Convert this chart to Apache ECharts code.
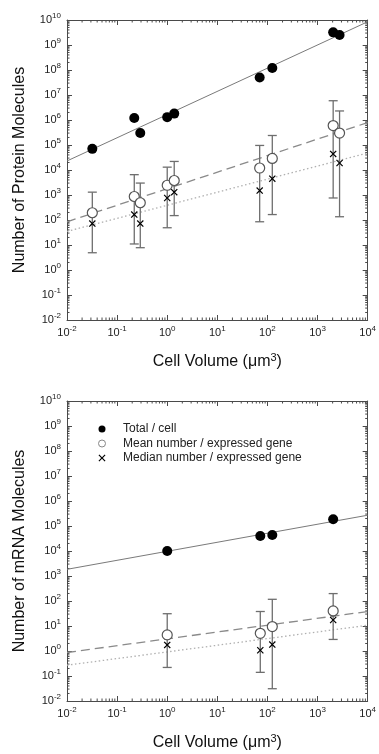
<!DOCTYPE html>
<html>
<head>
<meta charset="utf-8">
<script src="https://cdn.jsdelivr.net/npm/echarts@6/dist/echarts.min.js"></script>
<style>
  html, body { margin: 0; padding: 0; background: #fff; }
  #chart { width: 379px; height: 754px; }
</style>
</head>
<body>
<div id="chart"></div>
<script>
// cell volumes (um^3)
const proteinVolume = [0.032, 0.22, 0.29, 1.0, 1.38, 70, 125, 2050, 2750]
const proteinTotal = [7e4, 1.2e6, 3e5, 1.3e6, 1.8e6, 5e7, 1.2e8, 3.2e9, 2.5e9]
const proteinMean = [195, 870, 490, 2450, 3800, 1.2e4, 2.9e4, 6e5, 3e5]
const proteinMeanLow = [4.9, 11, 7.8, 49, 150, 85, 165, 760, 135]
const proteinMeanHigh = [1300, 6500, 3000, 1.3e4, 2.2e4, 9.6e4, 2.4e5, 5.9e6, 2.3e6]
const proteinMedian = [72, 165, 72, 760, 1300, 1500, 4500, 4.4e4, 1.9e4]

const mrnaVolume = [1.0, 72, 125, 2050]
const mrnaTotal = [1e4, 4e4, 4.4e4, 1.85e5]
const mrnaMean = [4.4, 5.1, 9.5, 40]
const mrnaMeanLow = [0.22, 0.14, 0.031, 2.9]
const mrnaMeanHigh = [31, 38, 117, 198]
const mrnaMedian = [1.75, 1.07, 1.8, 17.4]

// fitted lines, end points at the axis limits
const fitVolume = [0.01, 10000]
const proteinTotalFit = [2.3e4, 8.5e9]
const proteinMeanFit = [85, 7.9e5]
const proteinMedianFit = [35, 4.8e4]
const mrnaTotalFit = [1.85e3, 2.7e5]
const mrnaMeanFit = [0.87, 38]
const mrnaMedianFit = [0.27, 10.7]

const xRange = [0.01, 10000]
const yRange = [0.01, 1e10]
const minorSteps = [2, 3, 4, 5, 6, 7, 8, 9]
const legendNames = ['Total / cell', 'Mean number / expressed gene', 'Median number / expressed gene']

const FONT = 'Liberation Sans, Arial, sans-serif'
const FRAME = '#4a4a4a'
const crossPath = 'path://M0,1.2L1.2,0L5,3.8L8.8,0L10,1.2L6.2,5L10,8.8L8.8,10L5,6.2L1.2,10L0,8.8L3.8,5Z'

function decadesMinor(lo, hi) {
  const out = []
  for (let e = lo; e < hi; e++) for (const m of minorSteps) out.push(m * Math.pow(10, e))
  return out
}
const xMinor = decadesMinor(-2, 4)
const yMinor = decadesMinor(-2, 10)

const zip = (...cols) => cols[0].map((_, i) => cols.map(c => c[i]))

const powLabel = {
  formatter: v => `{b|10}{s|${Math.round(Math.log10(v))}}`,
  rich: {
    b: { fontSize: 11, fontFamily: FONT, color: '#222' },
    s: { fontSize: 8, fontFamily: FONT, color: '#222', padding: [0, 0, 8, 0] },
  },
}

function xAxes(grid) {
  const base = {
    type: 'log', logBase: 10, gridIndex: grid, min: xRange[0], max: xRange[1], interval: 1,
    axisLine: { lineStyle: { color: FRAME, width: 1 } },
    axisTick: { inside: true, length: 5, lineStyle: { color: FRAME } },
    splitLine: { show: false },
  }
  return [
    {
      ...base, position: 'bottom',
      axisLabel: { ...powLabel, margin: 5, interval: 0 },
      name: '{t|Cell Volume (μm}{s|3}{t|)}', nameLocation: 'middle', nameGap: 32,
      nameTextStyle: {
        rich: {
          t: { fontSize: 16, fontFamily: FONT, color: '#111' },
          s: { fontSize: 11, fontFamily: FONT, color: '#111', padding: [0, 0, 9, 0] },
        },
      },
    },
    { ...base, position: 'top', axisLabel: { show: false } },
  ]
}

function yAxes(grid, title) {
  const base = {
    type: 'log', logBase: 10, gridIndex: grid, min: yRange[0], max: yRange[1], interval: 1,
    axisLine: { lineStyle: { color: FRAME, width: 1 } },
    axisTick: { inside: true, length: 5, lineStyle: { color: FRAME } },
    splitLine: { show: false },
  }
  return [
    {
      ...base, position: 'left',
      axisLabel: { ...powLabel, margin: 6, interval: 0 },
      name: title, nameLocation: 'middle', nameGap: 39, nameRotate: 90,
      nameTextStyle: { fontSize: 16, fontFamily: FONT, color: '#111' },
    },
    { ...base, position: 'right', axisLabel: { show: false } },
  ]
}

function tickLine(x1, y1, x2, y2) {
  return { type: 'line', shape: { x1, y1, x2, y2 }, style: { stroke: FRAME, lineWidth: 1 } }
}

function minorTickSeries(idx) {
  const len = 2.5
  return [
    {
      type: 'custom', xAxisIndex: idx * 2, yAxisIndex: idx * 2, silent: true, z: 1,
      data: xMinor.map(v => [v, 1]),
      renderItem: (params, api) => {
        const b = api.coord([api.value(0), yRange[0]])
        const t = api.coord([api.value(0), yRange[1]])
        return { type: 'group', children: [tickLine(b[0], b[1], b[0], b[1] - len), tickLine(t[0], t[1], t[0], t[1] + len)] }
      },
    },
    {
      type: 'custom', xAxisIndex: idx * 2, yAxisIndex: idx * 2, silent: true, z: 1,
      data: yMinor.map(v => [1, v]),
      renderItem: (params, api) => {
        const l = api.coord([xRange[0], api.value(1)])
        const r = api.coord([xRange[1], api.value(1)])
        return { type: 'group', children: [tickLine(l[0], l[1], l[0] + len, l[1]), tickLine(r[0], r[1], r[0] - len, r[1])] }
      },
    },
  ]
}

function panelSeries(idx, vol, total, mean, low, high, median, fits) {
  const ax = { xAxisIndex: idx * 2, yAxisIndex: idx * 2 }
  const line = (vals, style) => ({
    type: 'line', ...ax, data: zip(fitVolume, vals), showSymbol: false, silent: true, z: 2,
    lineStyle: style,
  })
  return [
    line(fits[0], { color: '#7a7a7a', width: 1 }),
    line(fits[1], { color: '#8a8a8a', width: 1.3, type: [9, 5] }),
    line(fits[2], { color: '#b0b0b0', width: 1.3, type: [1.5, 2.5] }),
    {
      type: 'custom', ...ax, z: 3, silent: true,
      data: zip(vol, low, high),
      encode: { x: 0, y: [1, 2] },
      renderItem: (params, api) => {
        const lo = api.coord([api.value(0), api.value(1)])
        const hi = api.coord([api.value(0), api.value(2)])
        const w = 4.5
        const st = { stroke: '#6e6e6e', lineWidth: 1.3 }
        return {
          type: 'group',
          children: [
            { type: 'line', shape: { x1: lo[0], y1: lo[1], x2: hi[0], y2: hi[1] }, style: st },
            { type: 'line', shape: { x1: hi[0] - w, y1: hi[1], x2: hi[0] + w, y2: hi[1] }, style: st },
            { type: 'line', shape: { x1: lo[0] - w, y1: lo[1], x2: lo[0] + w, y2: lo[1] }, style: st },
          ],
        }
      },
    },
    {
      name: legendNames[0], type: 'scatter', ...ax, z: 5, data: zip(vol, total),
      symbol: 'circle', symbolSize: 10, itemStyle: { color: '#000', opacity: 1 },
    },
    {
      name: legendNames[1], type: 'scatter', ...ax, z: 5, data: zip(vol, mean),
      symbol: 'circle', symbolSize: 10,
      itemStyle: { color: '#fff', borderColor: '#555', borderWidth: 1.2, opacity: 1 },
    },
    {
      name: legendNames[2], type: 'scatter', ...ax, z: 6, data: zip(vol, median),
      symbol: crossPath, symbolSize: 7, itemStyle: { color: '#000', opacity: 1 },
    },
  ]
}

const chart = echarts.init(document.getElementById('chart'), null, { renderer: 'canvas' })
chart.setOption({
  animation: false,
  backgroundColor: '#fff',
  textStyle: { fontFamily: FONT },
  grid: [
    { left: 67, top: 20, width: 302, height: 300 },
    { left: 67, top: 401, width: 302, height: 300 },
  ],
  xAxis: [...xAxes(0), ...xAxes(1)],
  yAxis: [...yAxes(0, 'Number of Protein Molecules'), ...yAxes(1, 'Number of mRNA Molecules')],
  legend: {
    data: [
      { name: legendNames[0], itemStyle: { color: '#000' } },
      { name: legendNames[1], itemStyle: { color: '#fff', borderColor: '#888', borderWidth: 1 } },
      { name: legendNames[2], itemStyle: { color: '#000' } },
    ],
    orient: 'vertical', left: 93, top: 417,
    itemWidth: 8, itemHeight: 7, itemGap: 0.5,
    selectedMode: false,
    textStyle: { fontSize: 12, fontFamily: FONT, color: '#222', padding: [0, 0, 0, 12], lineHeight: 14 },
  },
  series: [
    ...minorTickSeries(0),
    ...minorTickSeries(1),
    ...panelSeries(0, proteinVolume, proteinTotal, proteinMean, proteinMeanLow, proteinMeanHigh, proteinMedian,
      [proteinTotalFit, proteinMeanFit, proteinMedianFit]),
    ...panelSeries(1, mrnaVolume, mrnaTotal, mrnaMean, mrnaMeanLow, mrnaMeanHigh, mrnaMedian,
      [mrnaTotalFit, mrnaMeanFit, mrnaMedianFit]),
  ],
})
</script>
</body>
</html>
